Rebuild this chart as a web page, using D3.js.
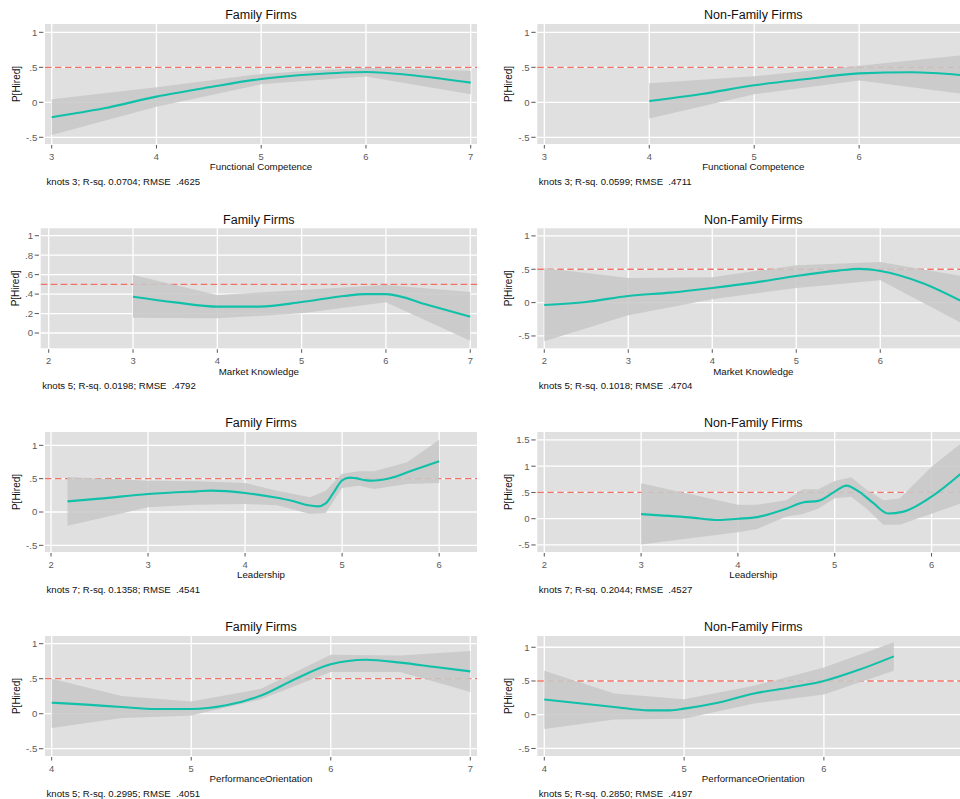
<!DOCTYPE html>
<html><head><meta charset="utf-8">
<script src="https://cdn.jsdelivr.net/npm/d3@7"></script>
<style>body{margin:0;background:#fff}svg{display:block}text{font-family:"Liberation Sans",Arial,sans-serif}</style>
</head><body><svg id="c" width="960" height="799"></svg>
<script>
// ---------- DATA ----------
const groups = ["Family Firms", "Non-Family Firms"];
const variables = ["Functional Competence", "Market Knowledge", "Leadership", "PerformanceOrientation"];
const notes = [
  "knots 3; R-sq. 0.0704; RMSE  .4625", "knots 3; R-sq. 0.0599; RMSE  .4711",
  "knots 5; R-sq. 0.0198; RMSE  .4792", "knots 5; R-sq. 0.1018; RMSE  .4704",
  "knots 7; R-sq. 0.1358; RMSE  .4541", "knots 7; R-sq. 0.2044; RMSE  .4527",
  "knots 5; R-sq. 0.2995; RMSE  .4051", "knots 5; R-sq. 0.2850; RMSE  .4197"
];
const refValue = 0.5;

// Functional Competence - Family
const fcFamX    = [3, 3.5, 4, 4.5, 5, 5.5, 6, 6.5, 7];
const fcFamFit  = [-0.214, -0.086, 0.081, 0.214, 0.333, 0.40, 0.433, 0.376, 0.281];
const fcFamBX   = [3, 4, 5, 5.5, 6, 7];
const fcFamUp   = [0.043, 0.214, 0.405, 0.455, 0.495, 0.452];
const fcFamLo   = [-0.467, -0.062, 0.257, 0.315, 0.367, 0.114];
// Functional Competence - Non-Family
const fcNonX    = [4, 4.5, 5, 5.5, 6, 6.5, 7];
const fcNonFit  = [0.019, 0.119, 0.243, 0.333, 0.414, 0.429, 0.386];
const fcNonBX   = [4, 5, 6, 7];
const fcNonUp   = [0.271, 0.371, 0.524, 0.676];
const fcNonLo   = [-0.233, 0.114, 0.31, 0.119];
// Market Knowledge - Family
const mkFamX    = [3, 3.5, 4, 4.5, 5, 5.5, 5.75, 6, 6.5, 7];
const mkFamFit  = [0.373, 0.315, 0.271, 0.271, 0.318, 0.38, 0.40, 0.40, 0.288, 0.168];
const mkFamBX   = [3, 4, 5, 6, 7];
const mkFamUp   = [0.596, 0.39, 0.442, 0.493, 0.421];
const mkFamLo   = [0.158, 0.151, 0.202, 0.315, -0.079];
// Market Knowledge - Non-Family
const mkNonX    = [2, 2.5, 3, 3.5, 4, 4.5, 5, 5.5, 5.75, 6, 6.5, 7];
const mkNonFit  = [-0.035, 0.01, 0.10, 0.15, 0.22, 0.30, 0.40, 0.48, 0.505, 0.475, 0.295, 0.0];
const mkNonBX   = [2, 3, 4, 5, 6, 7];
const mkNonUp   = [0.52, 0.37, 0.38, 0.56, 0.61, 0.39];
const mkNonLo   = [-0.58, -0.19, 0.05, 0.22, 0.335, -0.33];
// Leadership - Family
const ldFamX    = [2.17, 2.5, 3, 3.5, 3.65, 4, 4.3, 4.5, 4.65, 4.75, 4.83, 4.92, 5, 5.08, 5.3, 5.5, 5.7, 6];
const ldFamFit  = [0.16, 0.20, 0.27, 0.31, 0.32, 0.285, 0.22, 0.16, 0.10, 0.085, 0.13, 0.31, 0.475, 0.515, 0.47, 0.51, 0.61, 0.76];
const ldFamBX   = [2.17, 3, 3.5, 4, 4.33, 4.67, 4.83, 5, 5.17, 5.33, 5.67, 6];
const ldFamUp   = [0.525, 0.47, 0.46, 0.435, 0.32, 0.22, 0.32, 0.575, 0.61, 0.61, 0.745, 1.085];
const ldFamLo   = [-0.205, 0.07, 0.11, 0.12, 0.10, -0.03, -0.015, 0.36, 0.395, 0.345, 0.42, 0.435];
// Leadership - Non-Family
const ldNonX    = [3, 3.5, 3.8, 4, 4.2, 4.5, 4.67, 4.83, 5, 5.12, 5.25, 5.4, 5.55, 5.7, 6, 6.33];
const ldNonFit  = [0.088, 0.025, -0.025, 0.0, 0.03, 0.19, 0.31, 0.34, 0.516, 0.63, 0.516, 0.296, 0.10, 0.13, 0.42, 0.9];
const ldNonBX   = [3, 4, 4.2, 4.5, 4.67, 4.83, 5, 5.17, 5.33, 5.5, 5.67, 6, 6.33];
const ldNonUp   = [0.674, 0.265, 0.265, 0.35, 0.56, 0.56, 0.72, 0.79, 0.55, 0.35, 0.385, 0.99, 1.47];
const ldNonLo   = [-0.49, -0.26, -0.195, 0.044, 0.088, 0.19, 0.39, 0.42, 0.19, -0.113, -0.113, 0.095, 0.31];
// Performance Orientation - Family
const poFamX    = [4, 4.25, 4.5, 4.75, 5, 5.25, 5.5, 5.75, 6, 6.25, 6.5, 6.75, 7];
const poFamFit  = [0.157, 0.13, 0.095, 0.067, 0.067, 0.12, 0.26, 0.5, 0.705, 0.77, 0.73, 0.667, 0.605];
const poFamBX   = [4, 4.5, 5, 5.5, 6, 6.5, 7];
const poFamUp   = [0.5, 0.252, 0.176, 0.357, 0.843, 0.833, 0.895];
const poFamLo   = [-0.205, -0.062, -0.024, 0.205, 0.595, 0.595, 0.31];
// Performance Orientation - Non-Family
const poNonX    = [4, 4.5, 4.75, 4.9, 5, 5.25, 5.5, 5.75, 6, 6.25, 6.5];
const poNonFit  = [0.225, 0.115, 0.065, 0.065, 0.09, 0.18, 0.315, 0.40, 0.50, 0.665, 0.865];
const poNonBX   = [4, 4.5, 5, 5.5, 6, 6.5];
const poNonUp   = [0.65, 0.315, 0.23, 0.43, 0.70, 1.075];
const poNonLo   = [-0.21, -0.07, -0.06, 0.165, 0.30, 0.65];

// axis ticks
const yTicksStd = [-0.5, 0, 0.5, 1];
const yTicksMK  = [0, 0.2, 0.4, 0.6, 0.8, 1];
const yTicksLd2 = [-0.5, 0, 0.5, 1, 1.5];
const xTicksFC1 = [3, 4, 5, 6, 7], xTicksFC2 = [3, 4, 5, 6];
const xTicksMK1 = [2, 3, 4, 5, 6, 7], xTicksMK2 = [2, 3, 4, 5, 6];
const xTicksLd  = [2, 3, 4, 5, 6];
const xTicksPO1 = [4, 5, 6, 7], xTicksPO2 = [4, 5, 6];

// axis domains
const xDom = [[2.936, 7.06], [2.933, 7.05], [1.905, 7.08], [1.917, 7.06], [1.938, 6.39], [1.928, 6.39], [3.952, 7.048], [3.95, 7.04]];
const yDom = [[-0.596, 1.119], [-0.596, 1.119], [-0.157, 1.076], [-0.685, 1.114], [-0.6, 1.2], [-0.634, 1.651], [-0.604, 1.11], [-0.612, 1.167]];

// ---------- LAYOUT ----------
const plotLeft = [45, 537.3, 40.7, 537.3, 45, 537.3, 45, 537.3];
const plotRight = [477, 969.3, 477, 969.3, 477, 969.3, 477, 969.3];
const plotTop = [24, 24, 228.3, 228.3, 432, 432, 636, 636];
const yTitleGap = [29, 28.5, 25.7, 28.5, 29, 28.5, 29, 28.5];
const plotH = 120;

const fits = [[fcFamX, fcFamFit], [fcNonX, fcNonFit], [mkFamX, mkFamFit], [mkNonX, mkNonFit],
              [ldFamX, ldFamFit], [ldNonX, ldNonFit], [poFamX, poFamFit], [poNonX, poNonFit]];
const bands = [[fcFamBX, fcFamUp, fcFamLo], [fcNonBX, fcNonUp, fcNonLo], [mkFamBX, mkFamUp, mkFamLo], [mkNonBX, mkNonUp, mkNonLo],
               [ldFamBX, ldFamUp, ldFamLo], [ldNonBX, ldNonUp, ldNonLo], [poFamBX, poFamUp, poFamLo], [poNonBX, poNonUp, poNonLo]];
const yTicks = [yTicksStd, yTicksStd, yTicksMK, yTicksStd, yTicksStd, yTicksLd2, yTicksStd, yTicksStd];
const xTicks = [xTicksFC1, xTicksFC2, xTicksMK1, xTicksMK2, xTicksLd, xTicksLd, xTicksPO1, xTicksPO2];

const fmtY = v => v === 0 ? "0" : (v < 0 ? "-" : "") + (Math.abs(v) < 1 ? String(Math.abs(v)).replace(/^0/, "") : String(Math.abs(v)));

const svg = d3.select("#c");
const C = { bg: "#e0e0e0", band: "#c8c8c8", fit: "#10c0a8", ref: "#f27166", tick: "#555", lab: "#5a5a5a" };

for (let i = 0; i < 8; i++) {
  const x = d3.scaleLinear().domain(xDom[i]).range([plotLeft[i], plotRight[i]]);
  const y = d3.scaleLinear().domain(yDom[i]).range([plotTop[i] + plotH, plotTop[i]]);
  const g = svg.append("g");
  const L = plotLeft[i], R = plotRight[i], T = plotTop[i], B = T + plotH, cx = (L + R) / 2;

  g.append("rect").attr("x", L).attr("y", T).attr("width", R - L).attr("height", plotH).attr("fill", C.bg);
  // grid
  g.selectAll(".gy").data(yTicks[i]).join("line").attr("x1", L).attr("x2", R)
    .attr("y1", d => y(d)).attr("y2", d => y(d)).attr("stroke", "#fff").attr("stroke-width", 1.3);
  g.selectAll(".gx").data(xTicks[i]).join("line").attr("y1", T).attr("y2", B)
    .attr("x1", d => x(d)).attr("x2", d => x(d)).attr("stroke", "#fff").attr("stroke-width", 1.3);
  // reference line
  g.append("line").attr("x1", L).attr("x2", R).attr("y1", y(refValue)).attr("y2", y(refValue))
    .attr("stroke", C.ref).attr("stroke-width", 1.3).attr("stroke-dasharray", "6.5,3.5");
  // band
  const [bx, bu, bl] = bands[i];
  const bd = bx.map((v, k) => ({ x: v, u: bu[k], l: bl[k] }));
  g.append("path").datum(bd).attr("fill", C.band).attr("fill-opacity", 0.87)
    .attr("d", d3.area().x(d => x(d.x)).y0(d => y(d.l)).y1(d => y(d.u)));
  // fit
  const [fx, fy] = fits[i];
  const fd = fx.map((v, k) => ({ x: v, y: fy[k] }));
  g.append("path").datum(fd).attr("fill", "none").attr("stroke", C.fit).attr("stroke-width", 2.1)
    .attr("d", d3.line().x(d => x(d.x)).y(d => y(d.y)).curve(d3.curveMonotoneX));

  // y axis ticks + labels
  const ya = g.append("g");
  ya.selectAll("line").data(yTicks[i]).join("line").attr("x1", L - 6).attr("x2", L - 1.7)
    .attr("y1", d => y(d)).attr("y2", d => y(d)).attr("stroke", C.tick).attr("stroke-width", 1);
  ya.selectAll("text").data(yTicks[i]).join("text").attr("x", L - 7.7).attr("y", d => y(d) + 3.4)
    .attr("text-anchor", "end").attr("font-size", 9.6).attr("fill", C.lab).text(fmtY);
  // x axis ticks + labels
  const xa = g.append("g");
  xa.selectAll("line").data(xTicks[i]).join("line").attr("y1", B + 1).attr("y2", B + 4.5)
    .attr("x1", d => x(d)).attr("x2", d => x(d)).attr("stroke", C.tick).attr("stroke-width", 1);
  xa.selectAll("text").data(xTicks[i]).join("text").attr("y", B + 15.9).attr("x", d => x(d))
    .attr("text-anchor", "middle").attr("font-size", 9.4).attr("fill", C.lab).text(d => d);

  // titles
  g.append("text").attr("x", cx).attr("y", T - 4.7).attr("text-anchor", "middle").attr("font-size", 12.5)
    .attr("fill", "#111").text(groups[i % 2]);
  g.append("text").attr("x", cx).attr("y", B + 26.3).attr("text-anchor", "middle").attr("font-size", 9.7)
    .attr("fill", "#111").text(variables[Math.floor(i / 2)]);
  g.append("text").attr("transform", `translate(${L - yTitleGap[i] + 3.5},${(T + B) / 2}) rotate(-90)`)
    .attr("text-anchor", "middle").attr("font-size", 10).attr("fill", "#111").text("P[Hired]");
  g.append("text").attr("x", L + 1.5).attr("y", B + 41).attr("font-size", 9.6).attr("fill", "#111")
    .attr("xml:space", "preserve").style("white-space", "pre").text(notes[i]);
}
</script></body></html>
